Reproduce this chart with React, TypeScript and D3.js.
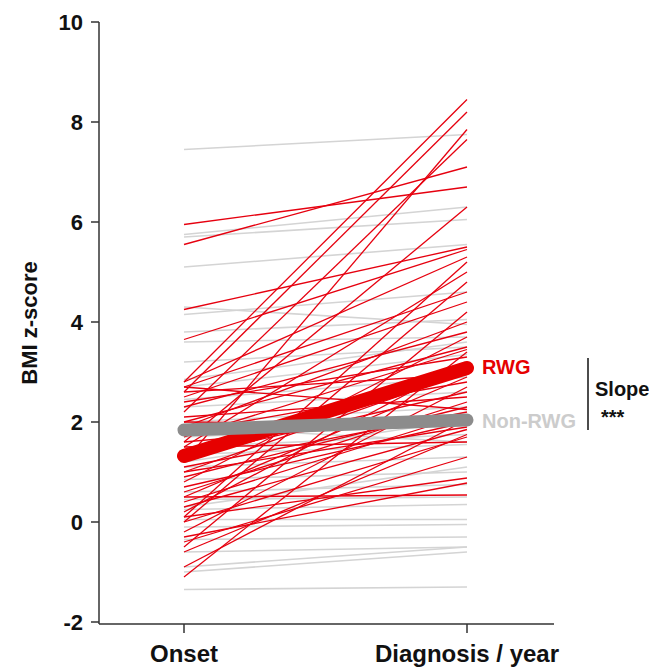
import React from "react";
import * as d3 from "d3";

const categories = ["Onset", "Diagnosis / year"];
const yTicks = [-2, 0, 2, 4, 6, 8, 10];

// [onset, diagnosis] BMI z-scores — rapid weight gain (RWG) subjects
const rwgOnset = [2.8, 2.6, 1.2, 2.2, 5.95, 5.55, 1.6, 4.25, 3.65, 2.8, 0.1, 1.5, 0.0, 2.7, 2.5, -0.5, 1.9, 2.3, 0.8, 2.0, 1.7, -1.1, 2.4, 0.2, 1.4, 1.0, 2.6, 0.5, 1.8, -0.2, 1.3, 2.1, 0.6, 0.9, 2.7, 1.1, 0.4, 1.6, -0.9, 0.7, 2.0, 1.0, 0.3, -0.6, 0.0, 1.5, -0.4, 0.1, -0.3, 0.5];
const rwgDiag = [8.45, 8.2, 7.85, 7.65, 6.7, 7.1, 6.3, 5.5, 5.45, 5.3, 5.2, 5.0, 4.8, 4.6, 4.4, 4.2, 4.0, 3.8, 3.7, 3.5, 3.45, 3.4, 3.3, 3.2, 3.1, 3.0, 2.95, 2.9, 2.8, 2.7, 2.6, 2.5, 2.4, 2.3, 2.25, 2.2, 2.15, 2.1, 2.05, 2.0, 1.95, 1.9, 1.85, 1.75, 1.7, 1.6, 1.3, 0.88, 0.78, 0.54];

// Non-RWG subjects
const nonOnset = [7.45, 5.75, 5.7, 5.1, 4.3, 4.15, 3.8, 3.6, 2.85, 2.7, 2.45, 2.3, 2.0, 1.9, 1.7, 1.5, 1.35, 1.1, 0.85, 0.6, 0.45, 0.25, 0.05, -0.1, -0.35, -0.6, -0.9, -1.0, -1.35, 3.2, 1.2, 0.3];
const nonDiag = [7.75, 6.3, 6.05, 5.55, 3.95, 4.6, 4.05, 3.7, 3.6, 3.35, 2.9, 2.6, 2.3, 1.6, 1.95, 1.75, 1.55, 1.3, 1.0, 0.75, 0.5, 0.35, 0.05, -0.05, -0.3, -0.5, -0.5, -0.6, -1.3, 3.5, 2.05, 1.1];

// group means
const rwgMean = [1.32, 3.08];
const nonMean = [1.84, 2.04];

const RED = "#e6000f";
const GRAY = "#d4d4d4";
const FONT = "Arial, 'Liberation Sans', sans-serif";

export default function App() {
  const W = 649, H = 667;
  const x = d3.scalePoint<string>().domain(categories).range([184, 467]);
  const y = d3.scaleLinear().domain([-2, 10]).range([622, 22]);
  const line = d3
    .line<[string, number]>()
    .x((d) => x(d[0]) as number)
    .y((d) => y(d[1]));
  const pair = (a: number, b: number) =>
    line([
      [categories[0], a],
      [categories[1], b],
    ]) as string;

  const axisX0 = 99;
  const axisY0 = 624;

  return (
    <svg
      width={W}
      height={H}
      style={{ position: "absolute", left: 0, top: 0, background: "#fff" }}
      fontFamily={FONT}
    >
      {/* individual lines */}
      <g fill="none">
        {nonOnset.map((v, i) => (
          <path key={"n" + i} d={pair(v, nonDiag[i])} stroke={GRAY} strokeWidth={1.6} />
        ))}
        {rwgOnset.map((v, i) => (
          <path key={"r" + i} d={pair(v, rwgDiag[i])} stroke={RED} strokeWidth={1.3} />
        ))}
      </g>
      {/* means */}
      <path d={pair(rwgMean[0], rwgMean[1])} stroke="#e60000" strokeWidth={14} strokeLinecap="round" fill="none" />
      <path d={pair(nonMean[0], nonMean[1])} stroke="#8c8c8c" strokeWidth={13} strokeLinecap="round" fill="none" />

      {/* y axis */}
      <line x1={axisX0} x2={axisX0} y1={y(10)} y2={axisY0} stroke="#333" strokeWidth={1.5} />
      {yTicks.map((t) => (
        <g key={t}>
          <line x1={axisX0 - 8} x2={axisX0} y1={y(t)} y2={y(t)} stroke="#333" strokeWidth={1.5} />
          <text x={83} y={y(t)} dy="0.36em" textAnchor="end" fontSize={22} fontWeight="bold" fill="#111">
            {t}
          </text>
        </g>
      ))}
      <text
        transform={`translate(37, ${(y(10) + axisY0) / 2}) rotate(-90)`}
        textAnchor="middle"
        fontSize={22}
        fontWeight="bold"
        fill="#111"
      >
        BMI z-score
      </text>

      {/* x axis */}
      <line x1={axisX0} x2={554} y1={axisY0} y2={axisY0} stroke="#333" strokeWidth={1.5} />
      {categories.map((c) => (
        <g key={c}>
          <line x1={x(c)} x2={x(c)} y1={axisY0} y2={axisY0 + 9} stroke="#333" strokeWidth={1.5} />
          <text x={x(c)} y={662} textAnchor="middle" fontSize={24} fontWeight="bold" fill="#111">
            {c}
          </text>
        </g>
      ))}

      {/* group labels */}
      <text x={482} y={374} fontSize={20} fontWeight="bold" fill="#e60000">RWG</text>
      <text x={482} y={428} fontSize={20} fontWeight="bold" fill="#cccccc">Non-RWG</text>
      <line x1={588} x2={588} y1={358} y2={430} stroke="#111" strokeWidth={1.5} />
      <text x={595} y={396} fontSize={20} fontWeight="bold" fill="#111">Slope</text>
      <text x={601} y={424} fontSize={20} fontWeight="bold" fill="#111">***</text>
    </svg>
  );
}
